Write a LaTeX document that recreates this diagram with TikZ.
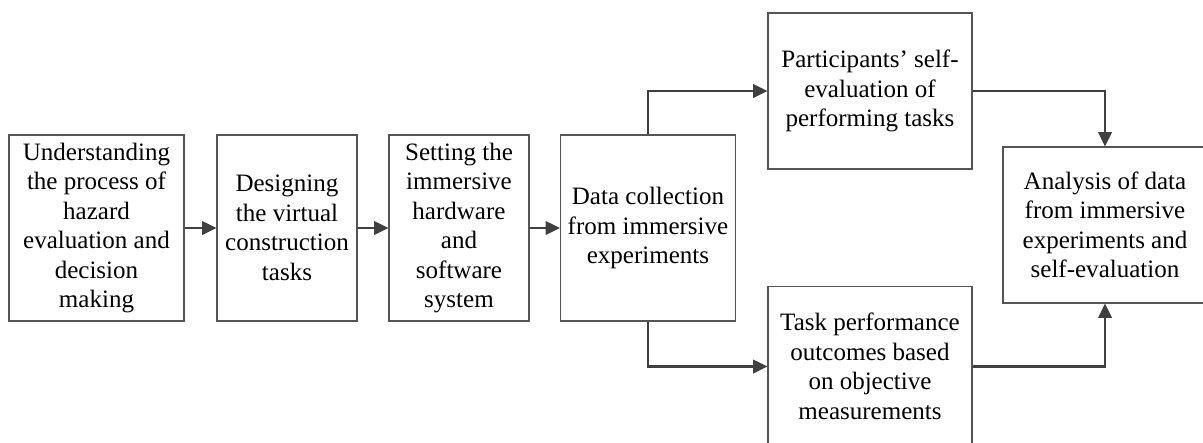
\documentclass[tikz,border=0pt]{standalone}
\usepackage{fontspec}
\setmainfont{Liberation Serif}
\usetikzlibrary{positioning, arrows.meta}
\definecolor{boxLine}{RGB}{85,85,85}
\definecolor{arrowGray}{RGB}{64,64,64}
\def\rowMid{-5.7}
\def\rowTop{-2.275}
\def\rowLow{-9.1625}
\def\colOut{21.75}
\def\colEnd{27.625}

\begin{document}
\begin{tikzpicture}[
    >={Triangle[length=0.36cm, width=0.34cm]},
    arrow/.style    ={->, line width=1.5pt, arrowGray},
    stepbox/.style  ={rectangle, draw=boxLine, line width=0.8pt, align=center, anchor=center,
                      minimum height=4.65cm, inner sep=2pt,
                      font=\fontsize{17.8}{21}\selectfont},
    outBox/.style   ={stepbox, minimum width=5.1cm, minimum height=3.9cm},
]
\clip (0,0) rectangle (30.075,-11.05);
\useasboundingbox (0,0) rectangle (30.075,-11.05);

% =====================================================
% Main row of steps
% =====================================================
\node[stepbox, minimum width=4.375cm] (underst) at (2.4125,\rowMid)
     {Understanding\\the process of\\hazard\\evaluation and\\decision\\making};
\node[stepbox, minimum width=3.5cm]   (design)  at (7.175,\rowMid)
     {Designing\\the virtual\\construction\\tasks};
\node[stepbox, minimum width=3.5cm]   (setting) at (11.475,\rowMid)
     {Setting the\\immersive\\hardware\\and\\software\\system};
\node[stepbox, minimum width=4.375cm] (datacol) at (16.2,\rowMid)
     {Data collection\\from immersive\\experiments};

% =====================================================
% Outcome boxes
% =====================================================
\node[outBox] (selfeval) at (\colOut,\rowTop) {Participants’ self-\\evaluation of\\performing tasks};
\node[outBox, minimum height=4.0cm] (taskperf) at (\colOut,\rowLow) {Task performance\\outcomes based\\on objective\\measurements};
\node[outBox] (analysis) at (\colEnd,-5.625)  {Analysis of data\\from immersive\\experiments and\\self-evaluation};

% =====================================================
% Connecting arrows
% =====================================================
\draw[arrow] (underst) -- (design);
\draw[arrow] (design)  -- (setting);
\draw[arrow] (setting) -- (datacol);

\draw[arrow] (datacol.north) |- (selfeval.west);
\draw[arrow] (datacol.south) |- (taskperf.west);

\draw[arrow] (selfeval.east) -| (analysis.north);
\draw[arrow] (taskperf.east) -| (analysis.south);

\end{tikzpicture}
\end{document}
